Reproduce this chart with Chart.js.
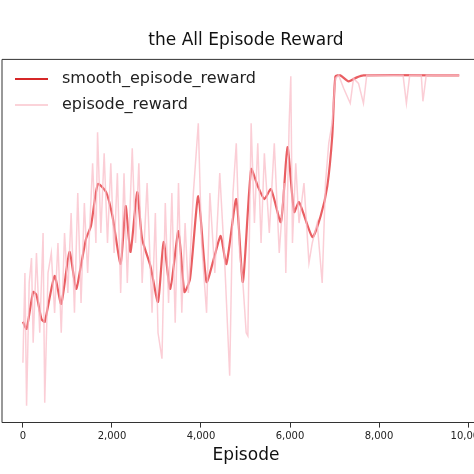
<!DOCTYPE html>
<html><head><meta charset="utf-8">
<script src="https://cdn.jsdelivr.net/npm/chart.js@4"></script>
<style>html,body{margin:0;padding:0;overflow:hidden;background:#fff}#wrap{width:490px;height:474px}</style>
</head><body><div id="wrap"><canvas id="c" width="490" height="474"></canvas></div>
<script>
// smooth_episode_reward (episode, value)
const smoothEp = [0,82,230,304,415,490,712,860,1046,1195,1306,1417,1528,1683,1869,2011,2196,2307,2418,2567,2678,2864,3035,3161,3310,3495,3628,3754,3940,4125,4311,4444,4571,4793,4941,5127,5276,5424,5572,5795,5943,6092,6203,6503,6689,6838,6949,7020,7131,7317,7502,7650,9802];
const smoothVal = [101,94,131,128,104,101,147,119,171,134,158,184,197,239,231,207,159,217,171,231,184,157,121,181,134,192,131,144,227,141,168,187,159,224,141,254,237,224,234,201,276,211,221,186,207,237,287,347,348,342,346,348,348];
// episode_reward (episode, value)
const rawEp = [0,45,82,141,193,230,304,378,453,490,564,638,712,787,861,935,1009,1083,1158,1232,1306,1380,1454,1566,1640,1677,1751,1825,1900,1974,2048,2122,2196,2271,2345,2456,2530,2604,2679,2790,2901,2975,3035,3124,3198,3272,3346,3421,3495,3569,3643,3717,3829,3940,4014,4126,4200,4311,4422,4534,4645,4719,4793,4868,4942,5016,5053,5127,5201,5276,5350,5424,5535,5647,5758,5869,5906,5981,6018,6055,6129,6203,6314,6426,6500,6611,6723,6797,6871,6945,7019,7094,7205,7353,7427,7539,7650,7724,8540,8615,8689,8949,8986,9060,9802];
const rawVal = [60,150,17,140,165,80,170,90,190,20,150,170,110,180,90,190,130,210,110,230,120,220,150,260,180,291,190,270,180,260,170,250,130,250,140,275,180,260,140,240,110,210,90,64,220,120,230,100,240,110,200,130,230,300,180,110,230,150,250,160,47,230,280,170,140,90,87,300,200,280,180,270,190,280,170,240,150,300,347,180,260,200,240,160,180,200,140,240,280,300,345,348,335,320,345,340,320,348,348,320,348,348,322,348,348];
const xTicks = [0,2000,4000,6000,8000,10000];

const pts = (xs, ys) => xs.map((x, i) => ({x, y: ys[i]}));

const legendPlugin = {
  id: 'legendBox',
  afterDraw(chart) {
    const {ctx, chartArea: a} = chart;
    ctx.save();
    ctx.strokeStyle = '#333'; ctx.lineWidth = 1;
    ctx.beginPath();
    ctx.moveTo(a.left, a.bottom); ctx.lineTo(a.left, a.top); ctx.lineTo(a.right, a.top);
    ctx.stroke();
    ctx.font = '16px "DejaVu Sans"'; ctx.textBaseline = 'middle'; ctx.fillStyle = '#222';
    ctx.lineWidth = 2;
    ctx.strokeStyle = '#d62728';
    ctx.beginPath(); ctx.moveTo(15, 79); ctx.lineTo(48, 79); ctx.stroke();
    ctx.fillText('smooth_episode_reward', 62, 79);
    ctx.strokeStyle = '#fbd3d9';
    ctx.beginPath(); ctx.moveTo(15, 105); ctx.lineTo(48, 105); ctx.stroke();
    ctx.fillText('episode_reward', 62, 105);
    ctx.restore();
  }
};

new Chart(document.getElementById('c'), {
  type: 'line',
  data: { datasets: [
    { label: 'episode_reward', data: pts(rawEp, rawVal), borderColor: 'rgba(250,190,200,0.75)', borderWidth: 1.5, pointRadius: 0, tension: 0 },
    { label: 'smooth_episode_reward', data: pts(smoothEp, smoothVal), borderColor: 'rgba(225,40,45,0.75)', borderWidth: 2.2, pointRadius: 0, tension: 0.2 }
  ]},
  options: {
    responsive: false, animation: false,
    layout: { padding: { left: 2, right: 0, top: 0, bottom: 4 } },
    plugins: {
      legend: { display: false }, tooltip: { enabled: false },
      title: { display: true, text: 'the All Episode Reward', color: '#111', font: { family: 'DejaVu Sans', size: 17, weight: 'normal' }, padding: { top: 30, bottom: 9 } }
    },
    scales: {
      x: { type: 'linear', min: -470, max: 10493,
        afterBuildTicks: s => { s.ticks = xTicks.map(v => ({value: v})); },
        ticks: { color: '#222', font: { family: 'DejaVu Sans', size: 10 }, maxRotation: 0, padding: 3 },
        grid: { drawOnChartArea: false, tickLength: 5, color: '#333' },
        border: { color: '#333' },
        title: { display: true, text: 'Episode', color: '#111', font: { family: 'DejaVu Sans', size: 17 }, padding: { top: 0 } } },
      y: { display: false, min: 0, max: 364 }
    }
  },
  plugins: [legendPlugin]
});
</script></body></html>
